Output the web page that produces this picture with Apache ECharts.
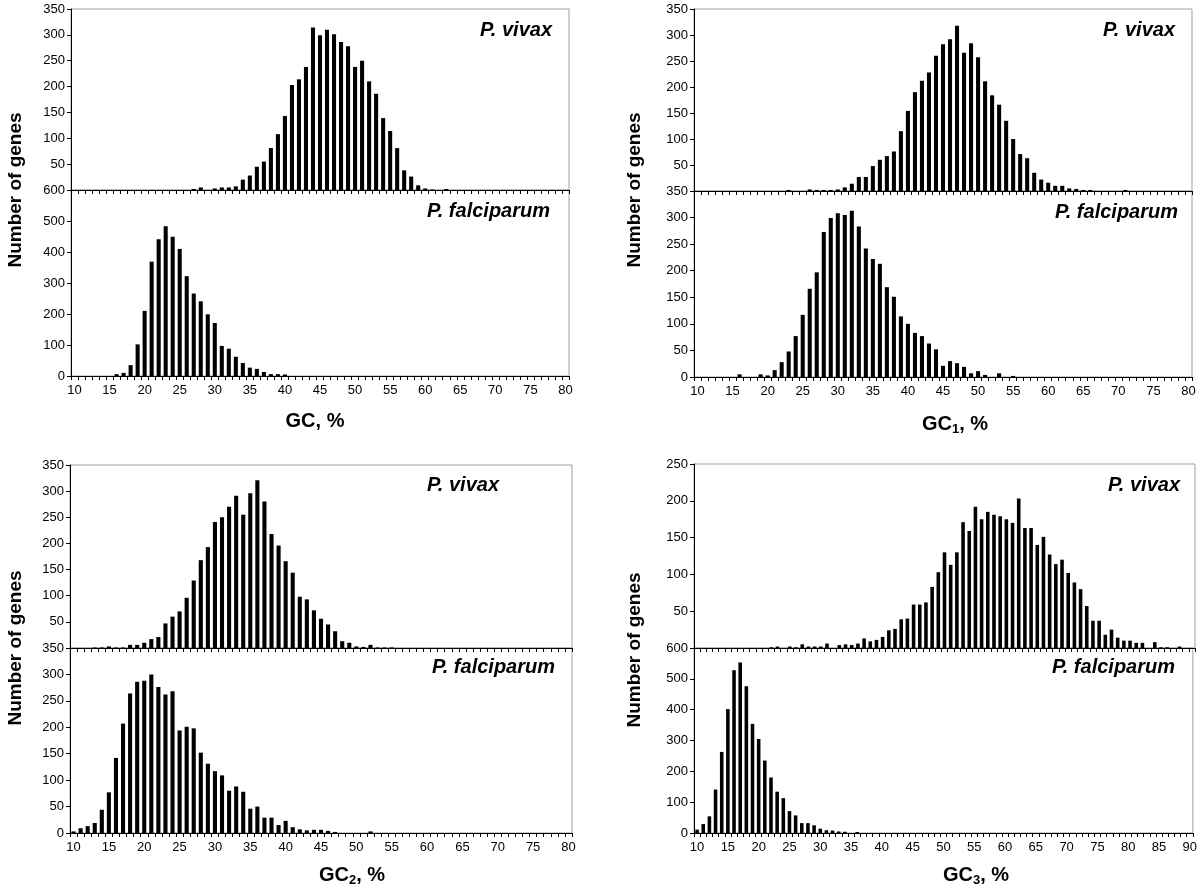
<!DOCTYPE html>
<html><head><meta charset="utf-8">
<script src="https://cdn.jsdelivr.net/npm/echarts/dist/echarts.min.js"></script>
<style>html,body{margin:0;padding:0;background:#fff}#c{width:1200px;height:889px}</style>
</head><body><div id="c"></div>
<script>
// ---------- categories (GC %) ----------
const catsGC = [10,11,12,13,14,15,16,17,18,19,20,21,22,23,24,25,26,27,28,29,30,31,32,33,34,35,36,37,38,39,40,41,42,43,44,45,46,47,48,49,50,51,52,53,54,55,56,57,58,59,60,61,62,63,64,65,66,67,68,69,70,71,72,73,74,75,76,77,78,79,80];
const catsGC3 = [10,11,12,13,14,15,16,17,18,19,20,21,22,23,24,25,26,27,28,29,30,31,32,33,34,35,36,37,38,39,40,41,42,43,44,45,46,47,48,49,50,51,52,53,54,55,56,57,58,59,60,61,62,63,64,65,66,67,68,69,70,71,72,73,74,75,76,77,78,79,80,81,82,83,84,85,86,87,88,89,90];

// ---------- series values (number of genes) ----------
const vivaxGC = [
 0,0,0,0,0,0,0,0,0,0,
 0,0,0,0,0,0,0,2,5,0,
 3,5,5,7,20,28,45,55,81,108,
 143,203,214,238,314,299,310,301,286,278,
 238,250,210,186,139,114,81,38,26,9,
 3,1,0,2,0,0,0,0,0,0,
 0,0,0,0,0,0,0,0,0,0,
 0];
const falcGC = [
 0,0,0,0,0,0,6,10,35,102,
 210,369,441,483,449,410,322,266,241,199,
 171,97,88,62,42,27,23,13,6,6,
 5,0,0,0,0,0,0,0,0,0,
 0,0,0,0,0,0,0,0,0,0,
 0,0,0,0,0,0,0,0,0,0,
 0,0,0,0,0,0,0,0,0,0,
 0];
const vivaxGC1 = [
 0,0,0,0,0,0,0,0,0,0,
 0,0,0,2,0,0,3,2,2,2,
 3,7,14,27,27,48,60,67,76,115,
 154,190,212,228,260,282,292,318,266,284,
 257,211,184,166,135,100,71,63,35,22,
 16,10,10,5,4,2,2,0,0,0,
 0,2,0,0,0,0,0,0,0,0,
 0];
const falcGC1 = [
 0,0,0,0,0,0,5,0,0,5,
 3,13,28,48,77,117,166,197,273,299,
 308,305,313,283,242,222,213,169,151,114,
 100,83,77,63,52,21,30,26,19,7,
 11,4,0,7,0,2,0,0,0,0,
 0,0,0,0,0,0,0,0,0,0,
 0,0,0,0,0,0,0,0,0,0,
 0];
const vivaxGC2 = [
 0,0,0,1,1,3,1,1,6,6,
 10,17,21,47,60,70,96,129,168,193,
 241,250,270,291,255,296,321,280,218,196,
 166,144,98,93,72,56,45,32,13,10,
 3,2,6,1,1,1,0,0,0,0,
 0,0,0,0,0,0,0,0,0,0,
 0,0,0,0,0,0,0,0,0,0,
 0];
const falcGC2 = [
 3,9,13,19,44,77,142,207,264,286,
 288,300,276,262,268,194,201,198,152,131,
 117,109,80,88,78,46,50,29,29,15,
 23,11,7,5,6,6,4,2,0,0,
 0,0,3,0,0,0,0,0,0,0,
 0,0,0,0,0,0,0,0,0,0,
 0,0,0,0,0,0,0,0,0,0,
 0];
const vivaxGC3 = [
 0,0,0,0,0,0,0,0,0,0,
 0,0,1,2,0,2,1,5,2,2,
 2,6,0,4,5,4,6,13,9,11,
 15,24,26,39,40,59,59,62,83,103,
 130,113,130,171,159,192,175,185,181,179,
 175,170,203,163,163,140,151,127,114,120,
 102,89,80,57,37,37,18,25,14,10,
 10,7,7,0,8,1,1,0,2,0,
 0];
const falcGC3 = [
 11,29,54,141,263,402,528,553,476,354,
 305,235,180,134,113,71,57,32,32,25,
 14,9,8,5,4,0,3,0,0,0,
 0,0,0,0,0,0,0,0,0,0,
 0,0,0,0,0,0,0,0,0,0,
 0,0,0,0,0,0,0,0,0,0,
 0,0,0,0,0,0,0,0,0,0,
 0,0,0,0,0,0,0,0,0,0,
 0];

// ---------- axis ranges / texts ----------
const yMaxTop = [350, 350, 350, 250];
const yStepTop = [50, 50, 50, 50];
const yMaxBottom = [600, 350, 350, 600];
const yStepBottom = [100, 50, 50, 100];
const xTitleMain = ['GC', 'GC', 'GC', 'GC'];
const xTitleSub = ['', '1', '2', '3'];
const yTitle = 'Number of genes';
const speciesTop = 'P. vivax';
const speciesBottom = 'P. falciparum';

const panelCats = [catsGC, catsGC, catsGC, catsGC3];
const panelTop = [vivaxGC, vivaxGC1, vivaxGC2, vivaxGC3];
const panelBottom = [falcGC, falcGC1, falcGC2, falcGC3];

// ---------- layout (pixels) ----------
const layout = [
  {left: 71,  width: 498, tops: [9, 190],   heights: [181, 186], yT: [16, 190],  xT: [315, 421], spT: [552, 30],  spB: [550, 211]},
  {left: 694, width: 498, tops: [9, 191],   heights: [182, 186], yT: [635, 190], xT: [955, 424], spT: [1175, 30], spB: [1178, 212]},
  {left: 70,  width: 502, tops: [465, 648], heights: [183, 185], yT: [16, 648],  xT: [352, 875], spT: [499, 485], spB: [555, 667]},
  {left: 694, width: 501, tops: [464, 648], heights: [184, 185], yT: [635, 650], xT: [976, 875], spT: [1180, 485], spB: [1175, 667]}
];

const FONT = '"Liberation Sans", Arial, Helvetica, sans-serif';
const grids = [], xAxes = [], yAxes = [], series = [], graphics = [];

layout.forEach((L, p) => {
  for (let k = 0; k < 2; k++) {
    const gi = grids.length;
    const isBottom = k === 1;
    grids.push({left: L.left, top: L.tops[k], width: L.width, height: L.heights[k],
      show: true, borderColor: '#a0a0a0', borderWidth: 1, backgroundColor: 'transparent', containLabel: false});
    xAxes.push({type: 'category', gridIndex: gi, data: panelCats[p], boundaryGap: true,
      axisLine: {show: true, onZero: false, lineStyle: {color: '#000', width: 1}},
      axisTick: {show: true, interval: 0, length: 4, lineStyle: {color: '#000', width: 1}},
      axisLabel: {show: isBottom, interval: 4, color: '#000', fontSize: 13, fontFamily: FONT, margin: 8},
      splitLine: {show: false}});
    yAxes.push({type: 'value', gridIndex: gi, min: 0,
      max: isBottom ? yMaxBottom[p] : yMaxTop[p],
      interval: isBottom ? yStepBottom[p] : yStepTop[p],
      axisLine: {show: true, lineStyle: {color: '#000', width: 1}},
      axisTick: {show: true, length: 4, lineStyle: {color: '#000', width: 1}},
      axisLabel: {color: '#000', fontSize: 13, fontFamily: FONT, margin: 6, showMinLabel: isBottom, showMaxLabel: true},
      splitLine: {show: false}});
    series.push({type: 'bar', xAxisIndex: gi, yAxisIndex: gi,
      data: isBottom ? panelBottom[p] : panelTop[p],
      barWidth: '58%', itemStyle: {color: '#000'}, silent: true});
  }
  // y title
  graphics.push({type: 'text', x: L.yT[0], y: L.yT[1], rotation: Math.PI / 2,
    style: {text: yTitle, fill: '#000', font: 'bold 19px ' + FONT,
      textAlign: 'center', textVerticalAlign: 'middle', align: 'center', verticalAlign: 'middle'}});
  // x title
  const sub = xTitleSub[p];
  graphics.push({type: 'text', x: L.xT[0], y: L.xT[1],
    style: {text: sub ? '{a|' + xTitleMain[p] + '}{s|' + sub + '}{a|, %}' : '{a|' + xTitleMain[p] + ', %}',
      rich: {a: {fontSize: 20, fontWeight: 'bold', fontFamily: FONT, color: '#000', lineHeight: 24},
             s: {fontSize: 13, fontWeight: 'bold', fontFamily: FONT, color: '#000', lineHeight: 24, verticalAlign: 'bottom', padding: [8, 0, 0, 0]}},
      textAlign: 'center', textVerticalAlign: 'middle', align: 'center', verticalAlign: 'middle'}});
  // species labels
  graphics.push({type: 'text', x: L.spT[0], y: L.spT[1],
    style: {text: speciesTop, fill: '#000', font: 'italic bold 20px ' + FONT,
      textAlign: 'right', textVerticalAlign: 'middle', align: 'right', verticalAlign: 'middle'}});
  graphics.push({type: 'text', x: L.spB[0], y: L.spB[1],
    style: {text: speciesBottom, fill: '#000', font: 'italic bold 20px ' + FONT,
      textAlign: 'right', textVerticalAlign: 'middle', align: 'right', verticalAlign: 'middle'}});
});

const chart = echarts.init(document.getElementById('c'), null, {renderer: 'canvas'});
chart.setOption({
  animation: false,
  backgroundColor: '#fff',
  grid: grids, xAxis: xAxes, yAxis: yAxes, series: series,
  graphic: graphics
});
</script>
</body></html>
